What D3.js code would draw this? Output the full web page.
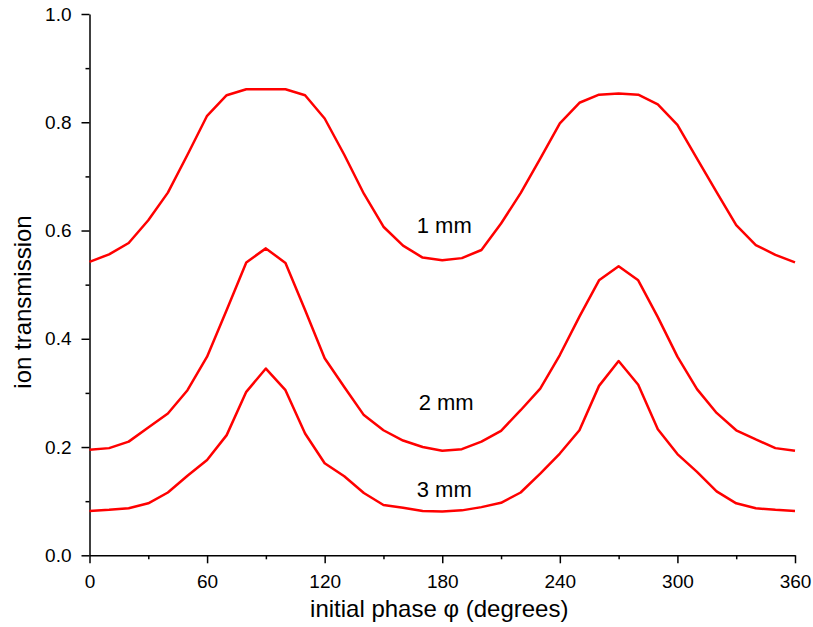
<!DOCTYPE html>
<html>
<head>
<meta charset="utf-8">
<script src="https://cdn.jsdelivr.net/npm/d3@7"></script>
<style>
body { margin:0; background:#fff; }
text { font-family: "Liberation Sans", Arial, sans-serif; fill:#000; }
.axis path, .axis line { stroke:#000; stroke-width:1.5px; }
</style>
</head>
<body>
<div id="chart"></div>
<script>
// phase in degrees, 10 degree steps
var phase = d3.range(0, 361, 10);

var t1mm = [0.542,0.556,0.577,0.619,0.670,0.740,0.812,0.850,0.861,0.861,0.861,0.850,0.807,0.740,0.668,0.607,0.572,0.550,0.545,
            0.549,0.564,0.613,0.669,0.733,0.798,0.836,0.851,0.853,0.851,0.833,0.795,0.733,0.671,0.610,0.573,0.555,0.541];
var t2mm = [0.195,0.198,0.210,0.236,0.262,0.305,0.367,0.453,0.541,0.567,0.540,0.453,0.364,0.311,0.259,0.231,0.212,0.200,0.193,
            0.196,0.210,0.230,0.268,0.308,0.370,0.441,0.508,0.534,0.508,0.440,0.367,0.307,0.263,0.231,0.214,0.198,0.193];
var t3mm = [0.082,0.084,0.087,0.096,0.116,0.147,0.176,0.222,0.302,0.345,0.305,0.225,0.170,0.146,0.115,0.093,0.088,0.082,0.081,
            0.083,0.089,0.097,0.116,0.151,0.188,0.231,0.313,0.359,0.315,0.233,0.187,0.154,0.118,0.096,0.087,0.084,0.082];

var series = [t1mm, t2mm, t3mm];
var labels = [{text:"1 mm", x:181, y:0.595}, {text:"2 mm", x:182, y:0.268}, {text:"3 mm", x:181, y:0.107}];

var xTicks = [0, 60, 120, 180, 240, 300, 360];
var yTicks = [0.0, 0.2, 0.4, 0.6, 0.8, 1.0];

var margin = {t:14, l:89.5, b:72, r:18},
    W = 813, H = 627,
    width = W - margin.l - margin.r,
    height = H - margin.t - margin.b;

var svg = d3.select("#chart").append("svg")
    .attr("width", W)
    .attr("height", H);

var g = svg.append("g")
    .attr("transform", "translate(" + margin.l + "," + margin.t + ")");

var x = d3.scaleLinear().domain([0, 360]).range([0, 705.5]);
var y = d3.scaleLinear().domain([0, 1]).range([541.3, 0]);

// minor ticks first, then major ones with labels
g.append("g").attr("class", "axis")
    .attr("transform", "translate(0," + y(0) + ")")
    .call(d3.axisBottom(x).tickValues(d3.range(30, 360, 60)).tickSize(4).tickFormat(""))
    .select(".domain").remove();
g.append("g").attr("class", "axis")
    .call(d3.axisLeft(y).tickValues(d3.range(0.1, 1, 0.2)).tickSize(4).tickFormat(""))
    .select(".domain").remove();

var xAxis = g.append("g").attr("class", "axis")
    .attr("transform", "translate(0," + y(0) + ")")
    .call(d3.axisBottom(x).tickValues(xTicks).tickSize(8).tickSizeOuter(0).tickPadding(11).tickFormat(d3.format("d")));
xAxis.selectAll("text").style("font-size", "19px");

var yAxis = g.append("g").attr("class", "axis")
    .call(d3.axisLeft(y).tickValues(yTicks).tickSize(8).tickSizeOuter(0).tickPadding(10).tickFormat(d3.format(".1f")));
yAxis.selectAll("text").style("font-size", "19px");

var line = d3.line()
    .x(function(d, i) { return x(phase[i]); })
    .y(function(d) { return y(d); });

g.selectAll(".curve")
    .data(series)
    .enter()
    .append("path")
    .attr("class", "curve")
    .attr("d", line)
    .attr("fill", "none")
    .attr("stroke", "#ff0000")
    .attr("stroke-width", 2.5)
    .attr("stroke-linejoin", "round");

g.selectAll(".lbl")
    .data(labels)
    .enter()
    .append("text")
    .attr("class", "lbl")
    .attr("x", function(d) { return x(d.x); })
    .attr("y", function(d) { return y(d.y); })
    .attr("text-anchor", "middle")
    .style("font-size", "22px")
    .text(function(d) { return d.text; });

svg.append("text")
    .attr("x", margin.l + x(180) - 3)
    .attr("y", 617)
    .attr("text-anchor", "middle")
    .style("font-size", "24px")
    .text("initial phase \u03c6 (degrees)");

svg.append("text")
    .attr("transform", "translate(31," + 302 + ") rotate(-90)")
    .attr("text-anchor", "middle")
    .style("font-size", "24px")
    .text("ion transmission");
</script>
</body>
</html>
